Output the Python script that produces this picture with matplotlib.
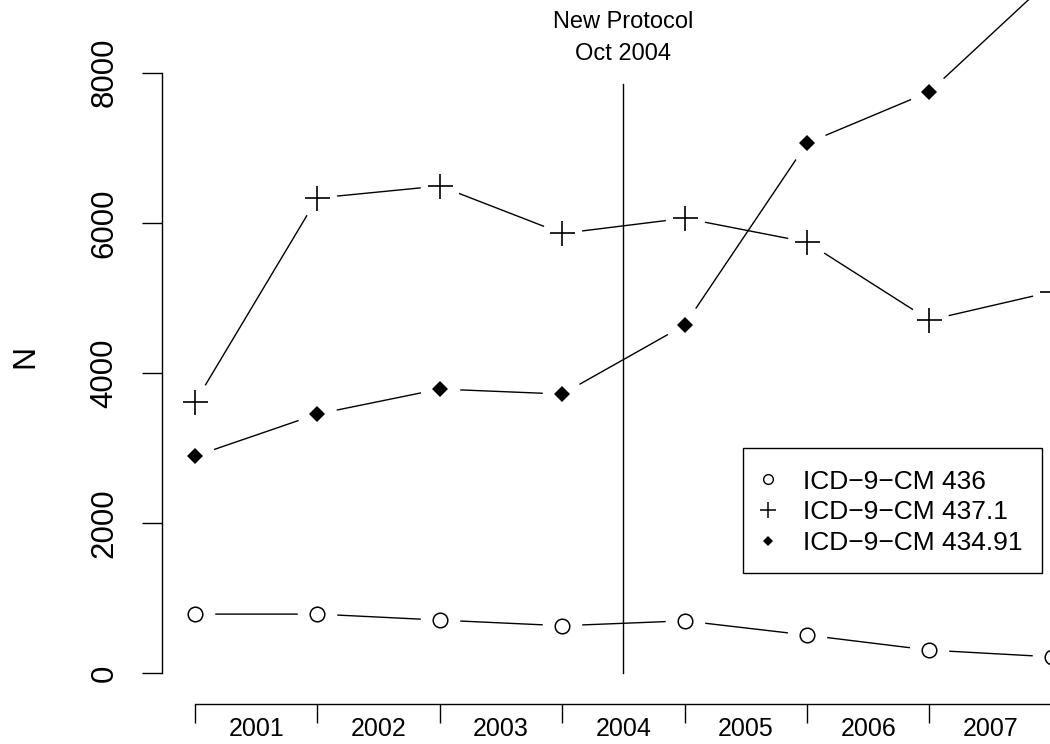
import numpy as np
import matplotlib.pyplot as plt
from matplotlib.lines import Line2D
from matplotlib.patches import Rectangle

plt.rcParams['font.family'] = ['Liberation Sans', 'DejaVu Sans']

years = [2001, 2002, 2003, 2004, 2005, 2006, 2007, 2008]
icd_436 = [785, 785, 705, 630, 695, 505, 305, 215]
icd_4371 = [3606, 6330, 6490, 5858, 6060, 5742, 4703, 5080]
icd_43491 = [2891, 3451, 3784, 3717, 4636, 7061, 7745, 9260]
labels = ['ICD\u22129\u2212CM 436', 'ICD\u22129\u2212CM 437.1', 'ICD\u22129\u2212CM 434.91']
protocol_x = 3.5
protocol_top = 7850
yticks = [0, 2000, 4000, 6000, 8000]

W, H = 1050, 744
x0, xstep = 195, 122.4      # pixel of first year, pixels per year
y0, ystep = 673, 0.07504    # pixel of N=0, pixels per unit

def fx(px):
    return px / W

def fy(py):
    return 1 - py / H

fig = plt.figure(figsize=(W / 100, H / 100), dpi=100)
ax = fig.add_axes([0, 0, 1, 1])

xs = np.arange(len(years))
series = [
    (icd_436, dict(marker='o', ms=10.5, mfc='white', mec='black', mew=1.1)),
    (icd_4371, dict(marker='+', ms=18, mec='black', mew=1.2)),
    (icd_43491, dict(marker='D', ms=8.5, mfc='black', mec='black', mew=0)),
]
for vals, mk in series:
    ax.plot(xs, vals, color='black', lw=1.0, zorder=2)
    # white disc under each point leaves the gap around the symbol
    ax.plot(xs, vals, ls='none', marker='o', ms=28.5, mfc='white', mew=0, zorder=3)
    ax.plot(xs, vals, ls='none', zorder=4, **mk)

ax.plot([protocol_x, protocol_x], [0, protocol_top], color='black', lw=1.0, zorder=1)

# R-style detached axes
for s in ['top', 'right']:
    ax.spines[s].set_visible(False)
ax.spines['left'].set_position(('data', (161.7 - x0) / xstep))
ax.spines['left'].set_bounds(0, 8000)
ax.spines['bottom'].set_position(('data', -(704 - y0) / ystep))
ax.spines['bottom'].set_bounds(0, len(years) - 1)
for s in ['left', 'bottom']:
    ax.spines[s].set_linewidth(1.0)

ax.set_yticks(yticks)
ax.set_yticklabels([str(v) for v in yticks], rotation=90, va='center', fontsize=22.5)
ax.tick_params(axis='y', length=14.4, width=1.0, pad=16)

ax.set_xticks(xs)
ax.set_xticklabels([])
ax.set_xticks(xs + 0.5, minor=True)
ax.set_xticklabels([str(y) for y in years], minor=True, fontsize=18)
ax.tick_params(axis='x', which='major', length=13.7, width=1.0)
ax.tick_params(axis='x', which='minor', length=0, pad=9.5)

# limits last, so the tick setters cannot widen them
ax.set_xlim(-x0 / xstep, (W - x0) / xstep)
ax.set_ylim(-(H - y0) / ystep, y0 / ystep)

ytop = ax.get_ylim()[1]
ax.text(protocol_x, ytop - 28 / ystep, 'New Protocol', ha='center', va='baseline', fontsize=17)
ax.text(protocol_x, ytop - 60 / ystep, 'Oct 2004', ha='center', va='baseline', fontsize=17)

fig.text(fx(25), fy(356), 'N', rotation=90, ha='center', va='center', fontsize=23)

# legend box
fig.add_artist(Rectangle((fx(743), fy(573)), fx(1042) - fx(743), fy(448) - fy(573),
                         transform=fig.transFigure, fill=False, ec='black', lw=1.0))
leg_marks = [
    dict(marker='o', ms=7, mfc='white', mec='black', mew=1.0),
    dict(marker='+', ms=11, mec='black', mew=1.1),
    dict(marker='D', ms=5.5, mfc='black', mec='black', mew=0),
]
for i, (lab, mk) in enumerate(zip(labels, leg_marks)):
    row = 479 + i * 30.8
    fig.add_artist(Line2D([fx(768)], [fy(row)], ls='none', transform=fig.transFigure, **mk))
    fig.text(fx(803), fy(row + 9.6), lab, fontsize=19, va='baseline', ha='left')

fig.savefig('out.png', dpi=100)
